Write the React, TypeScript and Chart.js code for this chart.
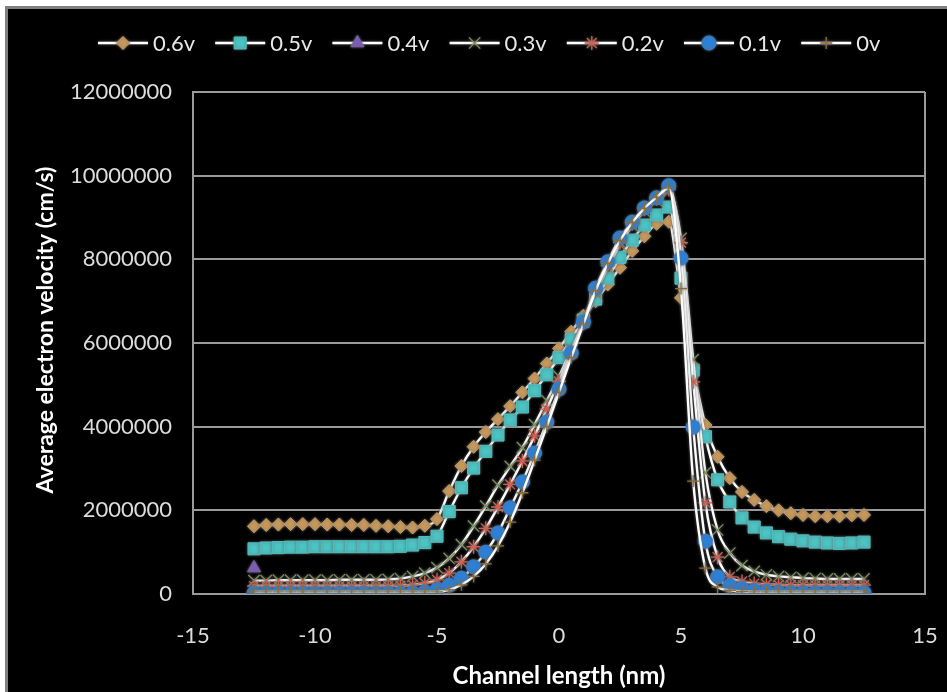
import React, { useEffect, useRef } from "react";
import { Chart, registerables } from "chart.js";
import { drawPoint } from "chart.js/helpers";

Chart.register(...registerables);

// Channel length positions (nm)
const X_NM = [
  -12.5, -12, -11.5, -11, -10.5, -10, -9.5, -9, -8.5, -8, -7.5, -7, -6.5, -6, -5.5, -5, -4.5, -4, -3.5, -3,
  -2.5, -2, -1.5, -1, -0.5, 0, 0.5, 1, 1.5, 2, 2.5, 3, 3.5, 4, 4.5, 5, 5.5, 6, 6.5, 7,
  7.5, 8, 8.5, 9, 9.5, 10, 10.5, 11, 11.5, 12, 12.5,
];

// Average electron velocity (cm/s) per bias
const V_06 = [
  1620000, 1650000, 1660000, 1670000, 1670000, 1670000, 1660000, 1660000, 1650000, 1650000, 1630000, 1620000, 1600000, 1590000, 1630000, 1790000, 2460000, 3060000, 3520000, 3870000,
  4180000, 4490000, 4820000, 5150000, 5510000, 5870000, 6270000, 6650000, 7000000, 7400000, 7800000, 8200000, 8550000, 8850000, 8900000, 7080000, 5400000, 4040000, 3280000, 2770000,
  2440000, 2250000, 2100000, 2000000, 1930000, 1890000, 1860000, 1860000, 1860000, 1880000, 1890000,
];
const V_05 = [
  1080000, 1100000, 1110000, 1120000, 1120000, 1130000, 1130000, 1130000, 1130000, 1130000, 1130000, 1130000, 1140000, 1170000, 1230000, 1380000, 1970000, 2540000, 3010000, 3410000,
  3800000, 4160000, 4470000, 4860000, 5240000, 5650000, 6080000, 6550000, 7050000, 7550000, 8050000, 8460000, 8820000, 9060000, 9250000, 7550000, 5350000, 3760000, 2730000, 2200000,
  1820000, 1600000, 1460000, 1370000, 1310000, 1270000, 1240000, 1220000, 1210000, 1220000, 1240000,
];
const V_04 = [
  620000, null, null, null, null, null, null, null, null, null, null, null, null, null, null, null, null, null, null, null,
  null, null, null, null, null, null, null, null, null, null, null, null, null, null, null, null, null, null, null, null,
  null, null, null, null, null, null, null, null, null, null, null,
];
const V_03 = [
  320000, 320000, 330000, 330000, 330000, 330000, 330000, 340000, 340000, 340000, 340000, 350000, 370000, 420000, 500000, 630000, 850000, 1180000, 1620000, 2100000,
  2600000, 3050000, 3500000, 4050000, 4620000, 5200000, 5850000, 6500000, 7200000, 7800000, 8350000, 8800000, 9150000, 9400000, 9620000, 8500000, 5600000, 2900000, 1530000, 980000,
  680000, 540000, 460000, 420000, 400000, 380000, 370000, 360000, 360000, 360000, 360000,
];
const V_02 = [
  190000, 190000, 190000, 190000, 190000, 190000, 190000, 190000, 190000, 190000, 190000, 190000, 200000, 220000, 260000, 340000, 500000, 770000, 1130000, 1570000,
  2080000, 2620000, 3180000, 3780000, 4420000, 5080000, 5780000, 6500000, 7250000, 7850000, 8400000, 8850000, 9200000, 9450000, 9670000, 8400000, 5070000, 2180000, 880000, 410000,
  300000, 250000, 230000, 220000, 210000, 210000, 210000, 210000, 210000, 210000, 210000,
];
const V_01 = [
  20000, 20000, 20000, 20000, 20000, 20000, 20000, 20000, 20000, 20000, 20000, 20000, 20000, 30000, 50000, 100000, 210000, 380000, 650000, 1000000,
  1460000, 2060000, 2680000, 3370000, 4110000, 4900000, 5760000, 6500000, 7310000, 7940000, 8510000, 8890000, 9230000, 9470000, 9760000, 8030000, 3990000, 1260000, 410000, 200000,
  130000, 80000, 60000, 40000, 30000, 30000, 30000, 30000, 30000, 30000, 30000,
];
const V_00 = [
  50000, 50000, 50000, 50000, 50000, 50000, 50000, 50000, 50000, 50000, 50000, 50000, 50000, 50000, 50000, 50000, 100000, 220000, 420000, 720000,
  1150000, 1720000, 2420000, 3200000, 4000000, 4820000, 5650000, 6450000, 7250000, 7900000, 8450000, 8880000, 9220000, 9480000, 9700000, 7300000, 2700000, 620000, 170000, 90000,
  60000, 50000, 50000, 50000, 50000, 50000, 50000, 50000, 50000, 50000, 50000,
];

const SERIES_LABELS = ["0.6v", "0.5v", "0.4v", "0.3v", "0.2v", "0.1v", "0v"];
const SERIES_VALUES = [V_06, V_05, V_04, V_03, V_02, V_01, V_00];
const SERIES_COLORS = ["#C9995B", "#4BC4C4", "#7E5CB8", "#7A8F5C", "#D0604F", "#2B80D8", "#8B6D35"];
const SERIES_STYLES = ["rectRot", "rect", "triangle", "crossRot", "star", "circle", "cross"];
const SERIES_RADII = [6.5, 8.5, 7.5, 8, 7, 7, 6];

const X_TITLE = "Channel length (nm)";
const Y_TITLE = "Average electron velocity (cm/s)";
const X_TICKS_MIN = -15;
const X_TICKS_MAX = 15;
const Y_MAX = 12000000;

const FONT = "Lato, 'Open Sans', sans-serif";

export default function App() {
  const ref = useRef<HTMLCanvasElement | null>(null);

  useEffect(() => {
    if (!ref.current) return;

    const datasets = SERIES_LABELS.map((label, i) => {
      const vals = SERIES_VALUES[i];
      const pts = X_NM.map((x, k) => ({ x, y: vals[k] })).filter((p) => p.y !== null);
      const thin = ["crossRot", "star", "cross"].includes(SERIES_STYLES[i]);
      return {
        label,
        data: pts,
        showLine: pts.length > 1,
        borderColor: "#ffffff",
        borderWidth: 2.4,
        pointStyle: SERIES_STYLES[i],
        pointRadius: SERIES_RADII[i],
        pointBackgroundColor: SERIES_COLORS[i],
        pointBorderColor: SERIES_COLORS[i],
        pointBorderWidth: thin ? 1.3 : 1,
        cubicInterpolationMode: "monotone",
        tension: 0.4,
        order: SERIES_LABELS.length - i,
      };
    });

    const glow = {
      id: "glow",
      beforeDatasetDraw(chart: any) {
        const c = chart.ctx;
        c.save();
        c.shadowColor = "rgba(110,110,110,0.9)";
        c.shadowBlur = 3;
      },
      afterDatasetDraw(chart: any) {
        chart.ctx.restore();
      },
    };

    const legend = {
      id: "xlLegend",
      afterDraw(chart: any) {
        const ctx = chart.ctx;
        chart.data.datasets.forEach((ds: any, i: number) => {
          const x0 = 98 + i * 117.2;
          const y = 43;
          ctx.save();
          ctx.shadowColor = "rgba(110,110,110,0.9)";
          ctx.shadowBlur = 3;
          ctx.strokeStyle = "#ffffff";
          ctx.lineWidth = 2.5;
          ctx.beginPath();
          ctx.moveTo(x0, y);
          ctx.lineTo(x0 + 50, y);
          ctx.stroke();
          ctx.fillStyle = ds.pointBackgroundColor;
          ctx.strokeStyle = ds.pointBorderColor;
          ctx.lineWidth = ds.pointBorderWidth;
          drawPoint(ctx, { pointStyle: ds.pointStyle, radius: ds.pointRadius, rotation: 0, borderWidth: ds.pointBorderWidth } as any, x0 + 25, y);
          ctx.restore();
          ctx.save();
          ctx.fillStyle = "#e8e8e8";
          ctx.font = `22px ${FONT}`;
          ctx.textBaseline = "middle";
          ctx.textAlign = "left";
          ctx.fillText(ds.label, x0 + 55, y + 1);
          ctx.restore();
        });
        // vertical axis title
        ctx.save();
        ctx.translate(46, 330);
        ctx.rotate(-Math.PI / 2);
        ctx.fillStyle = "#ffffff";
        ctx.font = `bold 23px ${FONT}`;
        ctx.textAlign = "center";
        ctx.textBaseline = "middle";
        ctx.fillText(Y_TITLE, 0, 0);
        ctx.restore();
      },
    };

    const gridGray = "#9a9a9a";

    const chart = new Chart(ref.current, {
      type: "scatter",
      data: { datasets: datasets as any },
      plugins: [glow, legend],
      options: {
        responsive: false,
        animation: false,
        layout: { padding: { left: 32, top: 92, right: 22, bottom: 0 } },
        plugins: {
          legend: { display: false },
          tooltip: { enabled: false },
        },
        scales: {
          x: {
            type: "linear",
            min: X_TICKS_MIN,
            max: X_TICKS_MAX,
            ticks: {
              stepSize: 5,
              color: "#dcdcdc",
              font: { family: FONT, size: 22 },
              padding: 29,
              callback: (v: any) => String(v),
            },
            grid: {
              drawTicks: false,
              lineWidth: 2,
              color: (c: any) => (c.tick && c.tick.value === X_TICKS_MAX ? gridGray : "rgba(0,0,0,0)"),
            },
            border: { display: true, color: gridGray, width: 2 },
            title: {
              display: true,
              text: X_TITLE,
              color: "#ffffff",
              font: { family: FONT, size: 24, weight: "bold" },
              padding: { top: 0, bottom: 1 },
            },
            afterFit: (a: any) => {
              a.height = 98;
              a.paddingLeft = 0;
              a.paddingRight = 0;
            },
          },
          y: {
            min: 0,
            max: Y_MAX,
            ticks: {
              stepSize: 2000000,
              color: "#dcdcdc",
              font: { family: FONT, size: 22 },
              padding: 21,
              callback: (v: any) => String(v),
            },
            grid: { drawTicks: false, lineWidth: 2, color: gridGray },
            border: { display: true, color: gridGray, width: 2 },
            title: { display: false },
            afterFit: (a: any) => {
              a.width = 193 - 32;
            },
          },
        },
      } as any,
    });

    return () => chart.destroy();
  }, []);

  return (
    <div style={{ position: "fixed", left: 0, top: 0, width: 947, height: 692, background: "#ffffff", overflow: "hidden" }}>
      <div
        style={{
          position: "absolute",
          left: 5,
          top: 6,
          width: 960,
          height: 700,
          border: "3px solid #808080",
          background: "#000000",
        }}
      />
      <canvas ref={ref} width={947} height={692} style={{ position: "absolute", left: 0, top: 0, width: 947, height: 692 }} />
    </div>
  );
}
